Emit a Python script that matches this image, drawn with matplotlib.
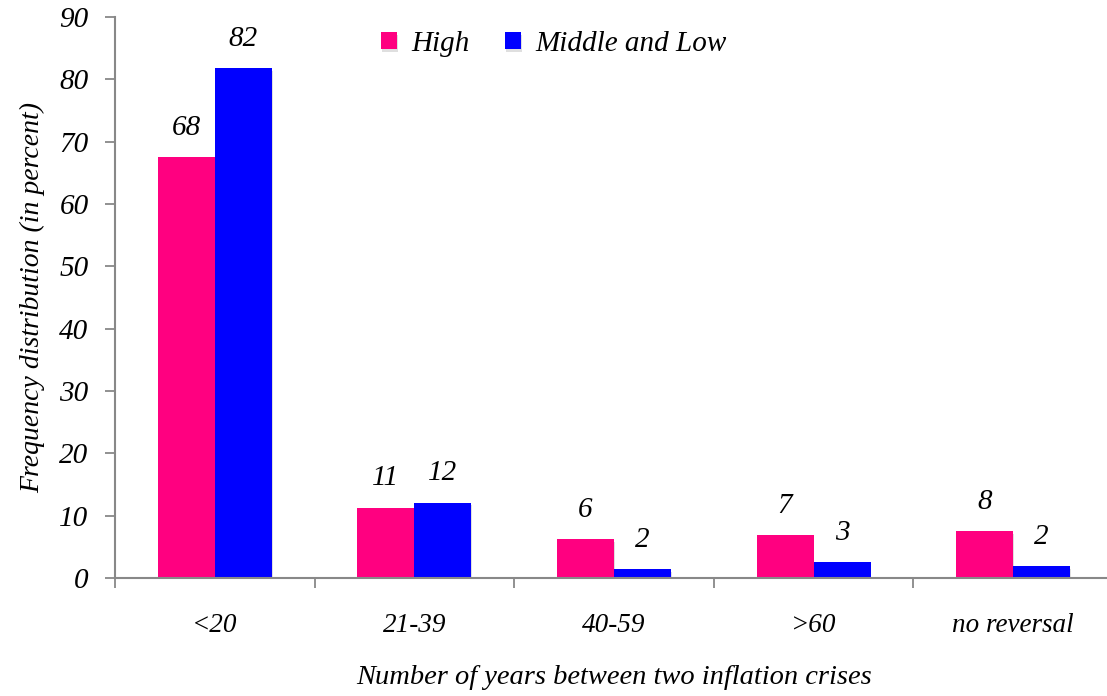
import numpy as np
import matplotlib.pyplot as plt
import matplotlib.patheffects as pe

categories = ['<20', '21-39', '40-59', '>60', 'no reversal']
high = [67.5, 11.3, 6.3, 6.9, 7.5]
mid_low = [81.8, 12.1, 1.4, 2.6, 1.9]
high_lbl = ['68', '11', '6', '7', '8']
mid_lbl = ['82', '12', '2', '3', '2']

plt.rcParams['font.family'] = ['Liberation Serif', 'DejaVu Serif']
plt.rcParams['font.style'] = 'italic'

fig = plt.figure(figsize=(11.07, 6.96), dpi=100)
ax = fig.add_axes([115/1107, 118/696, 998/1107, 561/696])

x = np.arange(len(categories))
w = 0.286
shadow = [pe.SimplePatchShadow(offset=(0.5, -2), shadow_rgbFace='gray', alpha=0.25), pe.Normal()]
b1 = ax.bar(x - w/2, high, w, color='#FF0080', label='High', path_effects=shadow)
b2 = ax.bar(x + w/2, mid_low, w, color='#0000FF', label='Middle and Low', path_effects=shadow)

for bars, labels in ((b1, high_lbl), (b2, mid_lbl)):
    for r, t in zip(bars, labels):
        ax.annotate(t, (r.get_x() + r.get_width()/2, r.get_height()), xytext=(0, 21),
                    textcoords='offset points', ha='center', va='center', fontsize=21)

ax.set_xlim(-0.5, 4.5)
ax.set_ylim(0, 90)
ax.set_yticks(range(0, 91, 10))
ax.set_xticks(np.arange(-0.5, 4.6, 1))
ax.set_xticklabels([])
ax.set_xticks(x, minor=True)
ax.set_xticklabels(categories, minor=True)
ax.tick_params(axis='x', which='minor', length=0, pad=25, labelsize=19.5)
ax.tick_params(axis='x', which='major', length=7, color='#888888', width=1.3)
ax.tick_params(axis='y', length=7, color='#888888', width=1.3, pad=12, labelsize=21)

for s in ['top', 'right']:
    ax.spines[s].set_visible(False)
for s in ['left', 'bottom']:
    ax.spines[s].set_color('#888888')
    ax.spines[s].set_linewidth(1.5)

ax.set_xlabel('Number of years between two inflation crises', fontsize=20.5, labelpad=20)
ax.set_ylabel('Frequency distribution (in percent)', fontsize=20, labelpad=10)

ax.legend(loc='upper center', bbox_to_anchor=(0.44, 1.022), ncol=2, frameon=False,
          fontsize=21, handlelength=0.55, handleheight=0.55, columnspacing=1.2, handletextpad=0.5)

fig.savefig('out.png', dpi=100)
